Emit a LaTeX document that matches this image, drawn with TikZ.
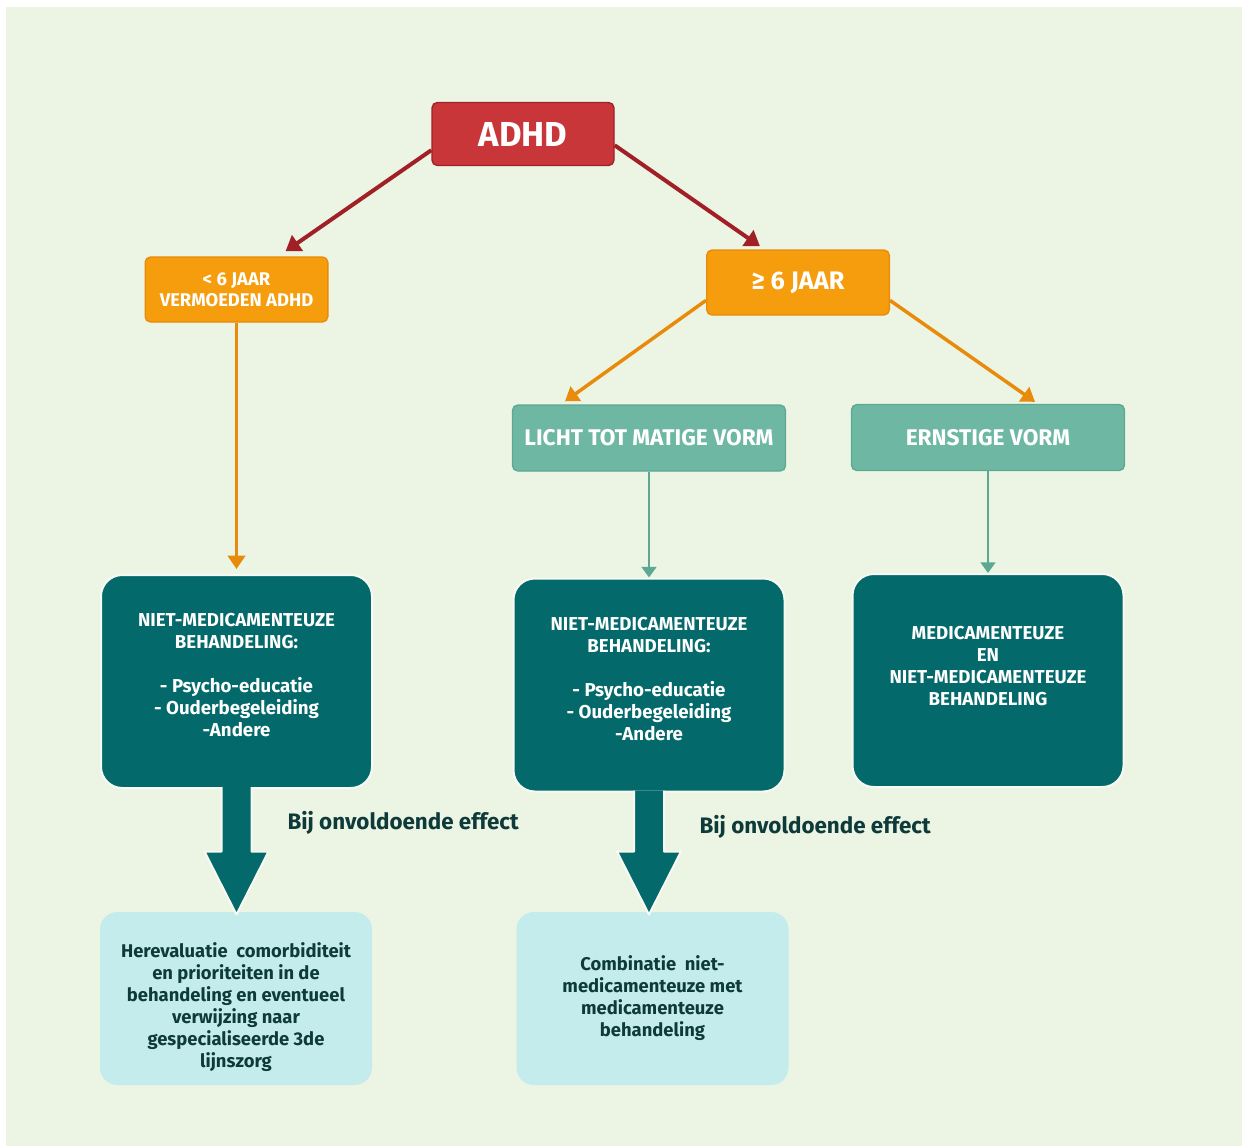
\documentclass[tikz,border=0pt]{standalone}
\usepackage{fontspec}
\setmainfont{Fira Sans}
\usetikzlibrary{arrows.meta,calc}
\definecolor{bgGreen}{RGB}{236,245,228}
\definecolor{adhdRed}{RGB}{201,54,58}
\definecolor{adhdEdge}{RGB}{160,32,38}
\definecolor{ageOrange}{RGB}{246,157,14}
\definecolor{ageEdge}{RGB}{232,138,10}
\definecolor{formTeal}{RGB}{110,184,163}
\definecolor{formEdge}{RGB}{92,168,146}
\definecolor{darkTeal}{RGB}{3,105,106}
\definecolor{lightCyan}{RGB}{196,236,236}
\definecolor{inkTeal}{RGB}{14,58,58}
\tikzset{every picture/.style={line width=0.75pt}}

\begin{document}
\begin{tikzpicture}[x=0.75pt,y=0.75pt,yscale=-1,xscale=1,
  smallbox/.style={rounded corners=4pt, align=center, inner sep=0.75pt, text=white, line width=1pt},
  redbox/.style={smallbox, fill=adhdRed, draw=adhdEdge, minimum width=136.5pt, minimum height=47.25pt, font=\bfseries\fontsize{26}{30}\selectfont},
  agebox/.style={smallbox, fill=ageOrange, draw=ageEdge, minimum width=137pt, minimum height=48.75pt},
  formbox/.style={smallbox, fill=formTeal, draw=formEdge, minimum width=204.75pt, minimum height=49.5pt, font=\bfseries\fontsize{17}{20}\selectfont},
  treatbox/.style={rounded corners=16pt, align=center, inner sep=0.75pt, text=white, fill=darkTeal, draw=white!55!bgGreen, line width=1.5pt, minimum width=203.25pt, minimum height=159.75pt, font=\bfseries\fontsize{14}{16.5}\selectfont},
  resultbox/.style={rounded corners=13pt, align=center, inner sep=0.75pt, text=inkTeal, fill=lightCyan, minimum width=204pt, minimum height=129.75pt, font=\bfseries\fontsize{13.8}{16.5}\selectfont},
  effectlabel/.style={anchor=west, inner sep=0.75pt, text=inkTeal, font=\bfseries\fontsize{16.8}{20}\selectfont},
  redline/.style={draw=adhdEdge, line width=3pt, -{Triangle[length=11pt,width=14pt]}},
  orangeline/.style={draw=ageEdge, line width=2.6pt, -{Triangle[length=10pt,width=13pt]}},
  tealline/.style={draw=formEdge, line width=2pt, -{Triangle[length=8pt,width=11pt]}},
  bigarrow/.style={fill=darkTeal, draw=white!55!bgGreen, line width=1.5pt, line join=round}]
%Background panel
\path[use as bounding box] (0,0) rectangle (1242,1146);
\fill[bgGreen] (6,7) rectangle (1242,1146);

%Shape: Rectangle [top]
\node[redbox] (adhd) at (523,134) {ADHD};
%Shape: Rectangle [age groups]
\node[agebox, font=\bfseries\fontsize{13.8}{16}\selectfont] (young) at (236.5,289.5) {< 6 JAAR\\VERMOEDEN ADHD};
\node[agebox, font=\bfseries\fontsize{19}{22}\selectfont] (old) at (798,282.5) {≥ 6 JAAR};
%Shape: Rectangle [forms]
\node[formbox] (mild) at (649,438) {LICHT TOT MATIGE VORM};
\node[formbox] (severe) at (988,437.5) {ERNSTIGE VORM};
%Shape: Rectangle [treatments]
\node[treatbox] (treat1) at (236.5,681.5) {NIET-MEDICAMENTEUZE\\BEHANDELING:\\[16.5pt]- Psycho-educatie\\- Ouderbegeleiding\\-Andere\\[-7pt]};
\node[treatbox] (treat2) at (649,685) {NIET-MEDICAMENTEUZE\\BEHANDELING:\\[16.5pt]- Psycho-educatie\\- Ouderbegeleiding\\-Andere\\[-7pt]};
\node[treatbox] (treat3) at (988,680.5) {MEDICAMENTEUZE\\EN\\NIET-MEDICAMENTEUZE\\BEHANDELING\\[6pt]};
%Shape: Rectangle [results]
\node[resultbox] (result1) at (236,998.5) {Herevaluatie\ \ comorbiditeit\\en prioriteiten in de\\behandeling en eventueel\\verwijzing naar\\gespecialiseerde 3de\\lijnszorg\\[-27pt]};
\node[resultbox] (result2) at (652.5,998.5) {Combinatie\ \ niet-\\medicamenteuze met\\medicamenteuze\\behandeling};

% Text Node
\node[effectlabel] (effect1) at (286,823) {Bij onvoldoende effect};
% Text Node
\node[effectlabel] (effect2) at (698,827) {Bij onvoldoende effect};

%Straight Lines
\draw[redline] (adhd.190) -- ($(young.north)+(49,-5)$);
\draw[redline] (adhd.-7) -- ($(old.north)+(-38,-3)$);
\draw[orangeline] (young.south) -- ($(treat1.north)+(0,-5)$);
\draw[orangeline] (old.191) -- ($(mild.north)+(-84,-3)$);
\draw[orangeline] (old.-11) -- ($(severe.north)+(47,-2)$);
\draw[tealline] (mild.south) -- (treat2.north);
\draw[tealline] (severe.south) -- (treat3.north);

%Shape: Block Arrows
\draw[bigarrow] ($(treat1.south)+(-15,-2)$) -- ($(treat1.south |- result1.north)+(-15,-60)$) -- ($(treat1.south |- result1.north)+(-32,-60)$) -- ($(treat1.south |- result1.north)+(0,3)$) -- ($(treat1.south |- result1.north)+(32,-60)$) -- ($(treat1.south |- result1.north)+(15,-60)$) -- ($(treat1.south)+(15,-2)$) ;
\draw[bigarrow] ($(treat2.south)+(-15,-2)$) -- ($(treat2.south |- result2.north)+(-15,-60)$) -- ($(treat2.south |- result2.north)+(-32,-60)$) -- ($(treat2.south |- result2.north)+(0,3)$) -- ($(treat2.south |- result2.north)+(32,-60)$) -- ($(treat2.south |- result2.north)+(15,-60)$) -- ($(treat2.south)+(15,-2)$) ;

\end{tikzpicture}
\end{document}
